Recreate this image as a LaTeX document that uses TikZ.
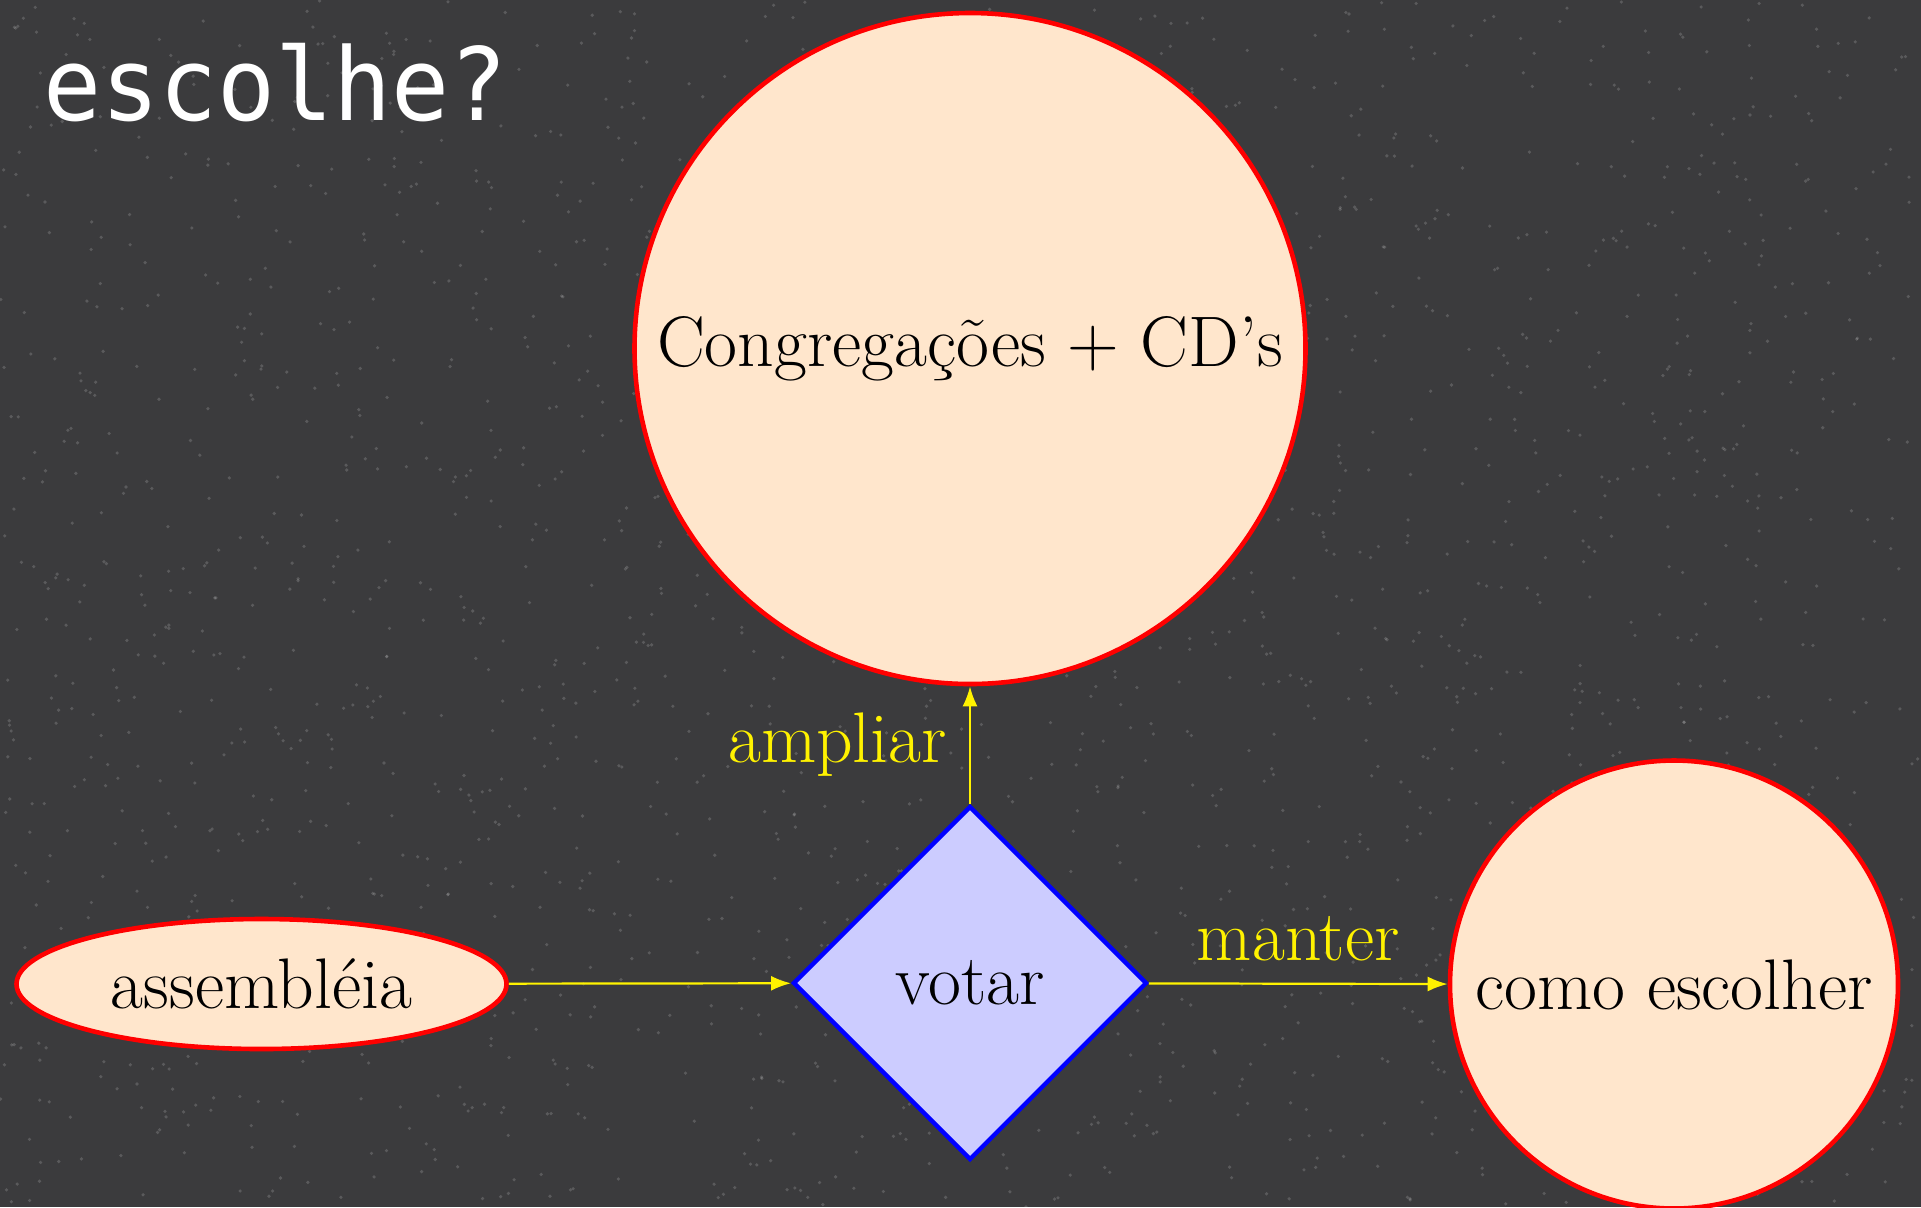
\documentclass[tikz,border=0pt]{standalone}
\usepackage{fontspec}
\newfontfamily\titlefont[FakeStretch=0.955]{DejaVu Sans Mono}
\usetikzlibrary{shapes.geometric,arrows.meta}
\definecolor{bg}{HTML}{3B3B3D}
\definecolor{peach}{HTML}{FFE6CC}
\definecolor{lav}{HTML}{CCCCFF}
\begin{document}
\begin{tikzpicture}[x=0.5pt,y=-0.5pt,
  txt/.style={font=\fontsize{35.8}{43}\selectfont, text=black},
  roundbox/.style={circle, draw=red, fill=peach, line width=2.3pt, inner sep=0pt, txt},
  ovalbox/.style={ellipse, draw=red, fill=peach, line width=2.3pt, inner sep=0pt, txt},
  choicebox/.style={diamond, draw=blue, fill=lav, line width=2.2pt, inner sep=0pt, txt},
  link/.style={draw=yellow, line width=1.1pt, -{Latex[length=10pt,width=7.5pt]}},
  linklabel/.style={font=\fontsize{35.8}{43}\selectfont, text=yellow, inner sep=11pt}]
\fill[bg] (0,0) rectangle (1921,1207);
\useasboundingbox (0,0) rectangle (1921,1207);
\pgfmathsetseed{11}
\foreach \i in {1,...,2200} {
  \fill[white, opacity=0.16] (rnd*1921, rnd*1207) circle[radius=0.9pt];
}
\node[anchor=base west, inner sep=0pt, text=white, font=\titlefont\fontsize{50.5}{60}\selectfont] (title) at (43,120) {escolhe?};
\node[roundbox, minimum size=335.5pt] (cong) at (970,348.5) {Congregações + CD’s};
\node[roundbox, minimum size=224pt] (como) at (1674,984.5) {como escolher};
\node[ovalbox, minimum width=245pt, minimum height=65pt] (assem) at (261.5,984) {assembléia};
\node[choicebox, minimum width=177pt, minimum height=177pt] (votar) at (970,983) {votar};
\draw[link] (assem) -- (votar);
\draw[link] (votar) -- node[linklabel, above] (lmanter) {manter} (como);
\draw[link] (votar) -- node[linklabel, left] (lampliar) {ampliar} (cong);
\end{tikzpicture}
\end{document}
